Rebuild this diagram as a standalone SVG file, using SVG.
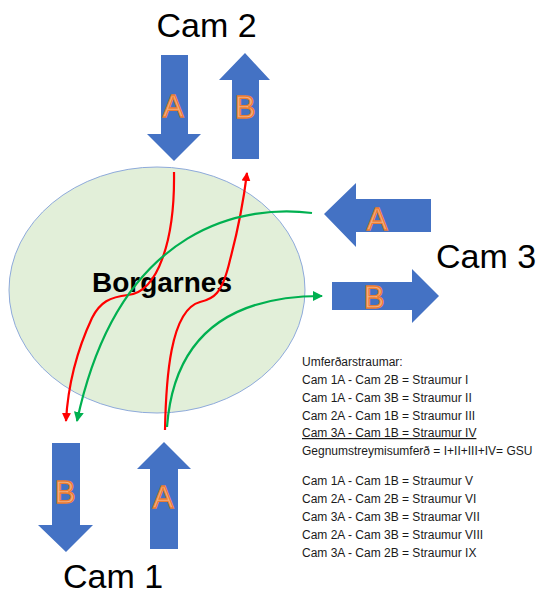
<svg xmlns="http://www.w3.org/2000/svg" width="542" height="596" viewBox="0 0 542 596">
<style>
.cam{font-family:"Liberation Sans",Arial,sans-serif;font-size:34px;fill:#000}
.arr{fill:#4472c4}
.lbl{font-family:"Liberation Sans",Arial,sans-serif;font-size:31px;fill:#f4b183;stroke:#ed7d31;stroke-width:1.3;text-anchor:middle}
.txt{font-family:"Liberation Sans",Arial,sans-serif;font-size:12px;fill:#1a1a1a}
.red{fill:none;stroke:#ff0000;stroke-width:2.2}
.grn{fill:none;stroke:#00b050;stroke-width:2.2}
</style>
<defs>
<marker id="mr" viewBox="0 0 10 10" refX="9" refY="5" markerWidth="9" markerHeight="9" markerUnits="userSpaceOnUse" orient="auto"><path d="M0,0 L10,5 L0,10 z" fill="#ff0000"/></marker>
<marker id="mg" viewBox="0 0 10 10" refX="9" refY="5" markerWidth="10" markerHeight="10" markerUnits="userSpaceOnUse" orient="auto"><path d="M0,0 L10,5 L0,10 z" fill="#00b050"/></marker>
</defs>
<rect width="542" height="596" fill="#ffffff"/>
<g id="borgarnes">
<ellipse cx="157" cy="290" rx="148" ry="123" fill="#e2efd9" stroke="#8eaadb" stroke-width="1"/>
<text x="162" y="292" text-anchor="middle" style="font-family:'Liberation Sans',Arial,sans-serif;font-size:28px;font-weight:bold;fill:#000">Borgarnes</text>
</g>
<g id="connectors">
<path class="red" d="M174,172 C175,240 158,292 128,295 C110,297 100,302 92,318 C78,348 68,385 66,421" marker-end="url(#mr)"/>
<path class="red" d="M165,430 C166,380 170,310 200,302 C213,299 222,295 230,260 C238,230 243,205 247,173" marker-end="url(#mr)"/>
<path class="grn" d="M312,213 C250,205 120,220 77,421" marker-end="url(#mg)"/>
<path class="grn" d="M167,427 C172,360 205,296 322,296" marker-end="url(#mg)"/>
</g>
<g id="cam2">
<text class="cam" x="206.5" y="37" text-anchor="middle">Cam 2</text>
<g id="cam2A"><polygon class="arr" points="161,55 188,55 188,134 201,134 174,161 147,134 161,134"/><text class="lbl" x="173" y="117">A</text></g>
<g id="cam2B"><polygon class="arr" points="232,159 259,159 259,80 270,80 245,53 219,80 232,80"/><text class="lbl" x="245" y="118">B</text></g>
</g>
<g id="cam3">
<text class="cam" x="436" y="268">Cam 3</text>
<g id="cam3A"><polygon class="arr" points="431,199 431,232 356,232 356,247 324,214 356,183 356,199"/><text class="lbl" x="377" y="230">A</text></g>
<g id="cam3B"><polygon class="arr" points="332,282 412,282 412,269 439,296 412,323 412,310 332,310"/><text class="lbl" x="374" y="308">B</text></g>
</g>
<g id="cam1">
<text class="cam" x="63" y="588">Cam 1</text>
<g id="cam1B"><polygon class="arr" points="52,443 80,443 80,525 93,525 66,552 38,525 52,525"/><text class="lbl" x="65" y="503">B</text></g>
<g id="cam1A"><polygon class="arr" points="150,549 178,549 178,469 191,469 164,442 137,469 150,469"/><text class="lbl" x="163" y="508">A</text></g>
</g>
<g id="legend" class="txt">
<text class="txt" x="302" y="366">Umferðarstraumar:</text>
<text class="txt" x="302" y="384">Cam 1A - Cam 2B = Straumur I</text>
<text class="txt" x="302" y="402">Cam 1A - Cam 3B = Straumur II</text>
<text class="txt" x="302" y="420">Cam 2A - Cam 1B = Straumur III</text>
<text class="txt" x="302" y="437" text-decoration="underline">Cam 3A - Cam 1B = Straumur IV</text>
<text class="txt" x="302" y="455">Gegnumstreymisumferð = I+II+III+IV= GSU</text>
<text class="txt" x="302" y="485">Cam 1A - Cam 1B = Straumur V</text>
<text class="txt" x="302" y="503">Cam 2A - Cam 2B = Straumur VI</text>
<text class="txt" x="302" y="521">Cam 3A - Cam 3B = Straumar VII</text>
<text class="txt" x="302" y="539">Cam 2A - Cam 3B = Straumur VIII</text>
<text class="txt" x="302" y="557">Cam 3A - Cam 2B = Straumur IX</text>
</g>
</svg>
